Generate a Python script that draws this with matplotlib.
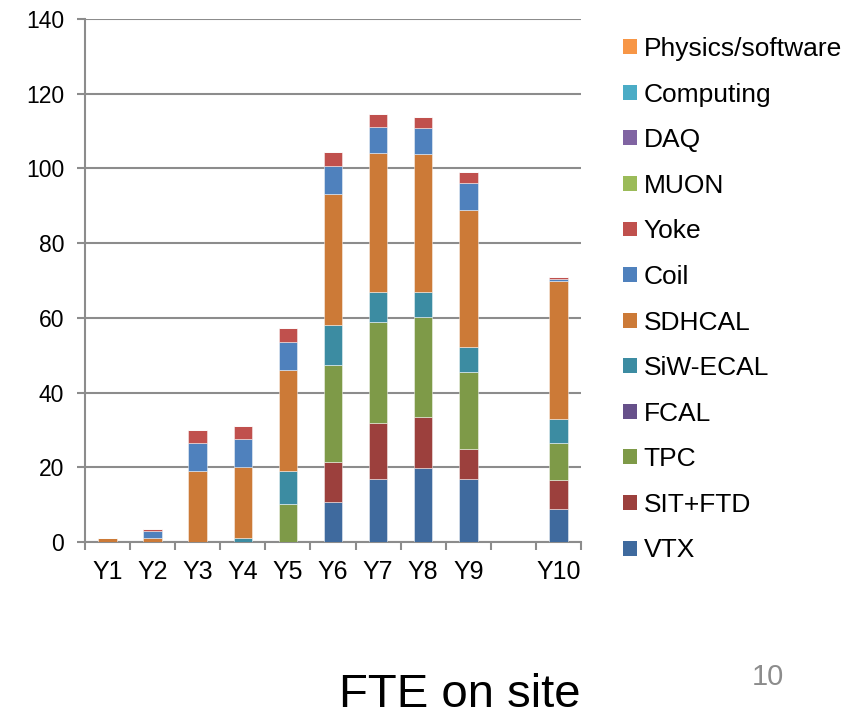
import matplotlib
matplotlib.use("Agg")
import matplotlib.pyplot as plt
from matplotlib.patches import Patch
import numpy as np

plt.rcParams['font.family'] = ['Liberation Sans', 'DejaVu Sans']

categories = ["Y1", "Y2", "Y3", "Y4", "Y5", "Y6", "Y7", "Y8", "Y9", "", "Y10"]

series_names = ["VTX", "SIT+FTD", "TPC", "FCAL", "SiW-ECAL", "SDHCAL",
                "Coil", "Yoke", "MUON", "DAQ", "Computing", "Physics/software"]

vtx      = [0, 0,   0,    0,    0,    10.8, 16.8, 19.7, 16.8, 0, 8.7]
sit_ftd  = [0, 0,   0,    0,    0,    10.7, 15.1, 13.7, 8.0,  0, 7.9]
tpc      = [0, 0,   0,    0,    10.1, 25.9, 27.1, 26.9, 20.8, 0, 9.8]
fcal     = [0, 0,   0,    0,    0,    0,    0,    0,    0,    0, 0]
siw_ecal = [0, 0,   0,    1.1,  9.0,  10.7, 8.0,  6.5,  6.5,  0, 6.4]
sdhcal   = [1.1, 1.1, 19.1, 18.9, 26.9, 35.0, 37.0, 37.1, 36.9, 0, 37.1]
coil     = [0, 1.9, 7.5,  7.5,  7.6,  7.6,  7.2,  6.8,  7.0,  0, 0.4]
yoke     = [0, 0.6, 3.5,  3.5,  3.6,  3.6,  3.4,  3.1,  3.0,  0, 0.7]
muon     = [0, 0,   0,    0,    0,    0,    0,    0,    0,    0, 0]
daq      = [0, 0,   0,    0,    0,    0,    0,    0,    0,    0, 0]
computing = [0, 0,  0,    0,    0,    0,    0,    0,    0,    0, 0]
physics  = [0, 0,   0,    0,    0,    0,    0,    0,    0,    0, 0]

series_values = [vtx, sit_ftd, tpc, fcal, siw_ecal, sdhcal,
                 coil, yoke, muon, daq, computing, physics]

colors = ["#3F6A9E", "#9C403D", "#7E9A48", "#66508A", "#3C8CA2", "#CC7A37",
          "#4F81BD", "#C0504D", "#9BBB59", "#8064A2", "#4BACC6", "#F79646"]

yticks = [0, 20, 40, 60, 80, 100, 120, 140]

fig = plt.figure(figsize=(8.58, 7.22), dpi=100)
fig.patch.set_facecolor("white")
ax = fig.add_axes([85/858, 1 - 542/722, (581 - 85)/858, (542 - 19)/722])

x = np.arange(len(categories))
bottom = np.zeros(len(categories))
for name, vals, col in zip(series_names, series_values, colors):
    v = np.array(vals, dtype=float)
    ax.bar(x, v, width=0.41, bottom=bottom, color=col, label=name,
           edgecolor=(1, 1, 1, 0.45), linewidth=0.7, zorder=3)
    bottom += v

grid_col = "#8C8C8C"
ax.set_xlim(-0.5, len(categories) - 0.5)
ax.set_ylim(0, 140)
ax.set_yticks(yticks)
ax.set_yticklabels([str(t) for t in yticks], fontsize=16.5)
ax.yaxis.grid(True, color=grid_col, linewidth=1.5, zorder=0)
ax.set_axisbelow(True)

ax.set_xticks(x)
ax.set_xticklabels(categories, fontsize=18)
ax.set_xticks(np.arange(-0.5, len(categories)), minor=True)
ax.tick_params(axis="x", which="major", length=0, pad=13)
ax.tick_params(axis="x", which="minor", length=6, width=1.5, color=grid_col, direction="out")
ax.tick_params(axis="y", length=6, width=1.5, color=grid_col, direction="out", pad=9)

for s in ["top", "right"]:
    ax.spines[s].set_visible(False)
for s in ["left", "bottom"]:
    ax.spines[s].set_color(grid_col)
    ax.spines[s].set_linewidth(1.5)

handles = [Patch(facecolor=c, edgecolor="none") for c in colors][::-1]
labels = series_names[::-1]
fig.legend(handles, labels, loc="upper left", bbox_to_anchor=(623/858, 1 - 37/722),
           frameon=False, fontsize=19, handlelength=0.53, handleheight=0.49,
           handletextpad=0.25, labelspacing=0.818, borderaxespad=0, borderpad=0)

fig.text(460/858, 1 - 707/722, "FTE on site", fontsize=34, ha="center", va="baseline")
fig.text(768/858, 1 - 685/722, "10", fontsize=21, ha="center", va="baseline", color="#8C8C8C")

fig.savefig("out.png", dpi=100, facecolor="white")
